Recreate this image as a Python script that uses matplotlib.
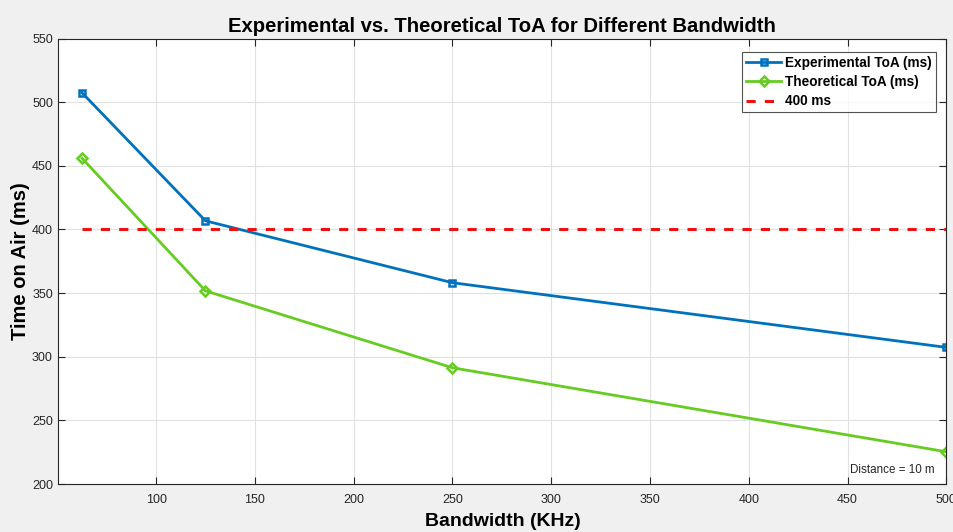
import matplotlib
matplotlib.use("Agg")
import matplotlib.pyplot as plt

plt.rcParams['font.family'] = ['Liberation Sans', 'DejaVu Sans']

bandwidth = [62.5, 125, 250, 500]
experimental_toa = [507.4, 406.8, 358.2, 307.4]
theoretical_toa = [456.0, 351.8, 291.4, 225.4]
limit_ms = 400
x_ticks = [100, 150, 200, 250, 300, 350, 400, 450, 500]
y_ticks = [200, 250, 300, 350, 400, 450, 500, 550]

bg = '#f0f0f0'
tick_color = '#262626'

fig = plt.figure(figsize=(9.54, 5.32), dpi=100, facecolor=bg)
ax = fig.add_axes([0.0613, 0.090, 0.9307, 0.8376])
ax.set_facecolor('white')

ax.plot(bandwidth, experimental_toa, color='#0072BD', lw=2, marker='s',
        ms=5, mfc='none', mew=1.8, label='Experimental ToA (ms)')
ax.plot(bandwidth, theoretical_toa, color='#66CC22', lw=2, marker='D',
        ms=5, mfc='none', mew=1.8, label='Theoretical ToA (ms)')
ax.plot([bandwidth[0], bandwidth[-1]], [limit_ms, limit_ms], color='#EE1111',
        lw=2.2, ls=(0, (3, 3)), label='400 ms')

ax.set_xlim(50.6, 500)
ax.set_ylim(200, 550)
ax.set_xticks(x_ticks)
ax.set_yticks(y_ticks)
ax.grid(True, color='#e1e1e1', lw=0.8)
ax.set_axisbelow(True)
ax.tick_params(direction='in', length=5, width=0.8, colors=tick_color,
               labelsize=9, top=True, right=True)
ax.tick_params(axis='x', pad=7)
ax.tick_params(axis='y', pad=4)
for s in ax.spines.values():
    s.set_color(tick_color)
    s.set_linewidth(0.8)

ax.set_title('Experimental vs. Theoretical ToA for Different Bandwidth',
             fontsize=14.6, fontweight='bold', pad=5)
ax.set_xlabel('Bandwidth (KHz)', fontsize=14, fontweight='bold', labelpad=5)
ax.set_ylabel('Time on Air (ms)', fontsize=14.5, fontweight='bold', labelpad=1.5)

leg = ax.legend(loc='upper right', bbox_to_anchor=(0.9885, 0.97),
                prop={'weight': 'bold', 'size': 9.8}, frameon=True, fancybox=False,
                edgecolor='#262626', borderpad=0.3, labelspacing=0.38,
                handlelength=2.6, handletextpad=0.3, borderaxespad=0)
leg.get_frame().set_linewidth(0.8)

ax.text(0.939, 0.018, 'Distance = 10 m', transform=ax.transAxes,
        fontsize=8.4, color='#262626', ha='center', va='bottom')

fig.savefig('out.png', dpi=100, facecolor=bg)
